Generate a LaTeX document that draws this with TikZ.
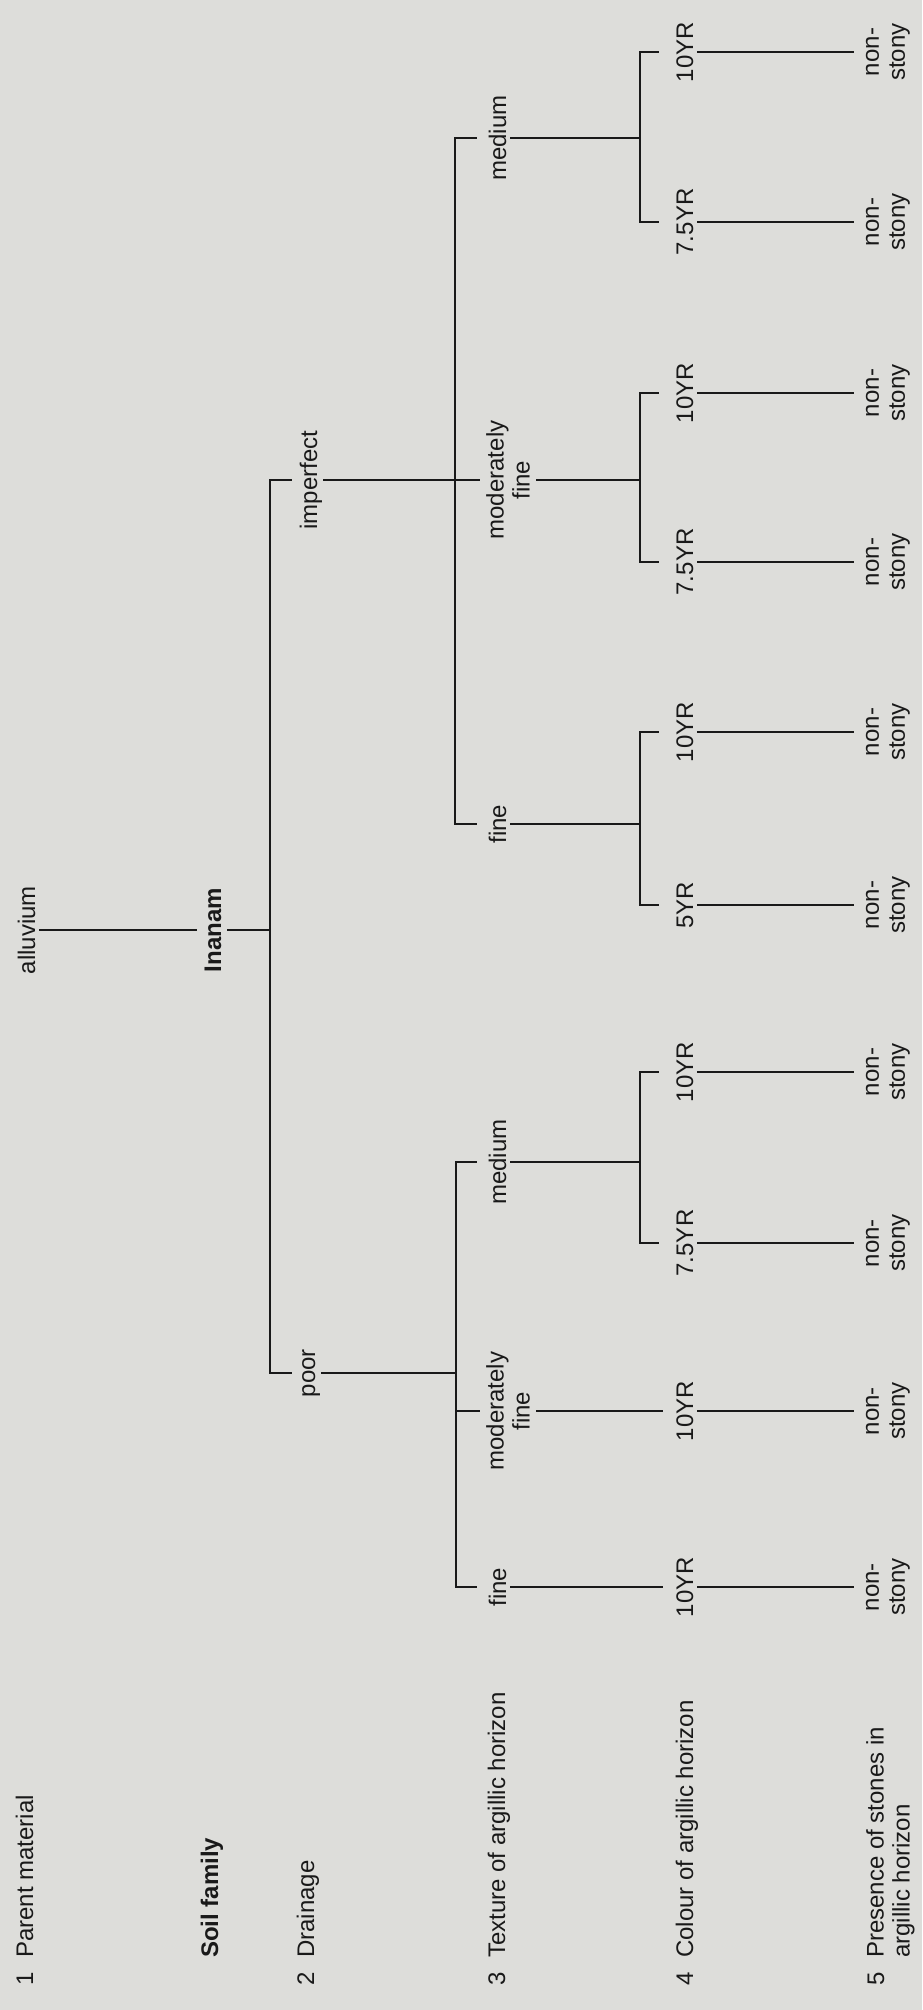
\documentclass[tikz,border=0pt]{standalone}
\usepackage{fontspec}
\setmainfont{Liberation Sans}
\definecolor{paper}{RGB}{221,221,218}
\definecolor{ink}{RGB}{25,25,25}
\tikzset{
  fnt/.style={font=\fontsize{24}{26}\selectfont},
  fntb/.style={font=\fontsize{24}{26}\selectfont\bfseries},
  lbl/.style={fnt, rotate=90, anchor=base, inner sep=0pt, text height=18pt, text depth=4pt, text=ink},
  two/.style={fnt, rotate=90, anchor=center, inner sep=0pt, align=center, text=ink},
  head/.style={fnt, rotate=90, anchor=base west, inner sep=0pt, text=ink},
  link/.style={draw=ink, line width=2.6pt, line join=miter},
}
\begin{document}
\begin{tikzpicture}[x=1pt,y=-1pt]
\fill[paper] (0,0) rectangle (922,2010);
\useasboundingbox (0,0) rectangle (922,2010);

% ---- headings ----
\node[head] (h1n) at (33,1986) {1};
\node[head] (h1) at (33,1958) {Parent material};
\node[head,fntb] (hs) at (218,1958) {Soil family};
\node[head] (h2n) at (314,1986) {2};
\node[head] (h2) at (314,1958) {Drainage};
\node[head] (h3n) at (505,1986) {3};
\node[head] (h3) at (505,1958) {Texture of argillic horizon};
\node[head] (h4n) at (693,1986) {4};
\node[head] (h4) at (693,1958) {Colour of argillic horizon};
\node[head] (h5n) at (884,1986) {5};
\node[head, anchor=north west, align=left] (h5) at (866,1958) {Presence of stones in\\argillic horizon};

% ---- parent material / soil family ----
\node[lbl] (allu) at (35,930) {alluvium};
\node[lbl,fntb] (inan) at (221,930) {Inanam};
\draw[link, shorten >=6pt] (allu.south) -- (inan.north);

% ---- drainage ----
\coordinate (dI) at (270,480);
\coordinate (dP) at (270,1373);
\node[lbl] (imp) at (317,480) {imperfect};
\node[lbl] (poor) at (315,1373) {poor};
\draw[link, shorten <=2pt] (inan.south) -- (inan.south -| dI);
\draw[link, shorten <=7pt, shorten >=5pt] (imp.north) -- (dI) -- (dP) -- (poor.north);

% ---- texture ----
\coordinate (tIa) at (455,138);
\coordinate (tIb) at (455,824);
\coordinate (tPa) at (456,1162);
\coordinate (tPb) at (456,1587);
\node[lbl] (medI) at (506,138) {medium};
\node[two] (mfI) at (508,480) {moderately\\fine};
\node[lbl] (fineI) at (506,824) {fine};
\node[lbl] (medP) at (506,1162) {medium};
\node[two] (mfP) at (508,1411) {moderately\\fine};
\node[lbl] (fineP) at (506,1587) {fine};

\draw[link, shorten <=2pt, shorten >=6pt] (imp.south) -- (mfI.north);
\draw[link, shorten <=11pt, shorten >=11pt] (medI.north) -- (tIa) -- (tIb) -- (fineI.north);
\draw[link, shorten <=2pt] (poor.south) -- (poor.south -| tPa);
\draw[link, shorten <=11pt, shorten >=11pt] (medP.north) -- (tPa) -- (tPb) -- (fineP.north);
\draw[link, shorten >=6pt] (mfP.north -| tPa) -- (mfP.north);

% ---- colour ----
\foreach \i/\yy/\lab in {1/52/10YR, 2/222/7.5YR, 3/393/10YR, 4/562/7.5YR, 5/732/10YR,
                          6/905/5YR, 7/1072/10YR, 8/1243/7.5YR, 9/1411/10YR, 10/1587/10YR}{
  \node[lbl] (c\i) at (693,\yy) {\lab};
  \node[two] (n\i) at (888,\yy) {non-\\stony};
  \draw[link, shorten >=12pt] (c\i.south) -- (n\i);
}
\coordinate (cIma) at (640,52);
\coordinate (cImb) at (640,222);
\coordinate (cIfa) at (640,393);
\coordinate (cIfb) at (640,562);
\coordinate (cIna) at (640,732);
\coordinate (cInb) at (640,905);
\coordinate (cPma) at (640,1072);
\coordinate (cPmb) at (640,1243);

\draw[link] (medI.south) -- (medI.south -| cIma);
\draw[link, shorten <=16pt, shorten >=16pt] (c1.north) -- (cIma) -- (cImb) -- (c2.north);
\draw[link, shorten <=6pt] (mfI.south) -- (mfI.south -| cIfa);
\draw[link, shorten <=16pt, shorten >=16pt] (c3.north) -- (cIfa) -- (cIfb) -- (c4.north);
\draw[link] (fineI.south) -- (fineI.south -| cIna);
\draw[link, shorten <=16pt, shorten >=16pt] (c5.north) -- (cIna) -- (cInb) -- (c6.north);
\draw[link] (medP.south) -- (medP.south -| cPma);
\draw[link, shorten <=16pt, shorten >=16pt] (c7.north) -- (cPma) -- (cPmb) -- (c8.north);
\draw[link, shorten <=6pt, shorten >=12pt] (mfP.south) -- (c9.north);
\draw[link, shorten >=12pt] (fineP.south) -- (c10.north);
\end{tikzpicture}
\end{document}
